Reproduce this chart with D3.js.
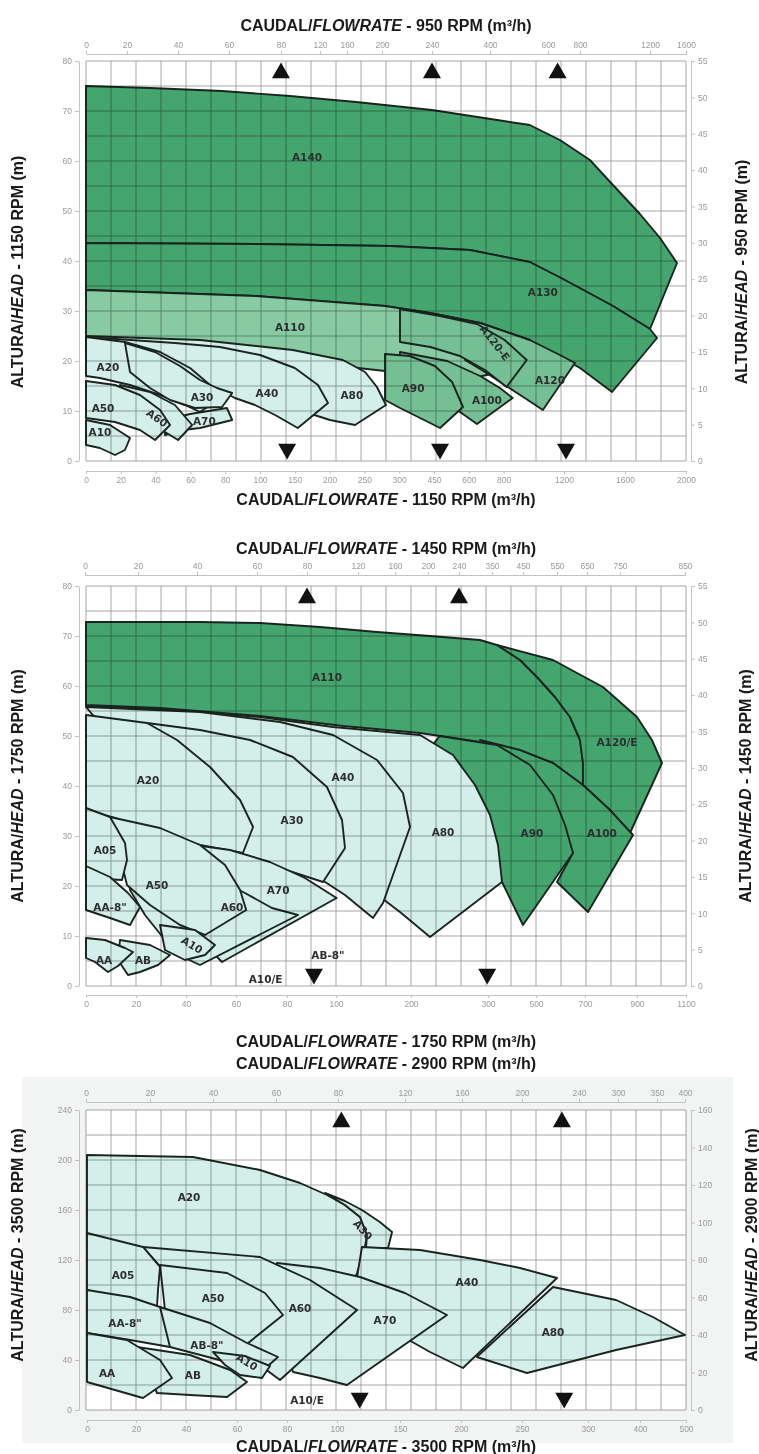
<!DOCTYPE html>
<html>
<head>
<meta charset="utf-8">
<script src="https://cdn.jsdelivr.net/npm/d3@7"></script>
<style>
  body { margin: 0; background: #fff; }
  svg { display: block; }
</style>
</head>
<body>
<div id="container"></div>
<script>
/* CONSTANTS AND GLOBALS */
const width = 759, height = 1454;
const TITLE_FONT = "'Liberation Sans', Arial, sans-serif";
const LABEL_FONT = "'DejaVu Sans', sans-serif";
const tones = { dark: "#45a56f", mid: "#88cba3", mid2: "#74bf93", light: "#d4efea" };

/* ---------- PANEL 1 : 1150 rpm (bottom / left) - 950 rpm (top / right) ---------- */
const p1FlowBottom = [0, 20, 40, 60, 80, 100, 150, 200, 250, 300, 450, 600, 800, 1200, 1600, 2000];
const p1FlowTop = [0, 20, 40, 60, 80, 120, 160, 200, 240, 400, 600, 800, 1200, 1600];
const p1HeadLeft = [0, 10, 20, 30, 40, 50, 60, 70, 80];
const p1HeadRight = [0, 5, 10, 15, 20, 25, 30, 35, 40, 45, 50, 55];
const p1UpMarks = [80, 240, 660];      // top axis flow
const p1DownMarks = [139, 476, 1213];  // bottom axis flow

const p1A140 = [[0,75],[36.8,74.6],[78.2,74],[143,73],[238,71.8],[441,70.2],[800,68],[973,67.2],[1173,64.2],[1370,60.2],[1521,55.2],[1698,49.4],[1830,44.6],[1941,39.6],[1764,26.4],[1521,31],[1193,36.4],[973,39.8],[606,42.2],[287,43],[97.7,43.4],[0,43.6]];
const p1A130 = [[0,43.6],[97.7,43.4],[287,43],[606,42.2],[973,39.8],[1193,36.4],[1521,31],[1764,26.4],[1810,24.6],[1515,13.8],[1305,18.6],[973,24.2],[665,27.6],[434,29.6],[279.6,31],[97.7,33],[0,34.2]];
const p1A110 = [[0,34.2],[97.7,33],[279.6,31],[434,29.6],[665,27.6],[973,24.2],[907,20.2],[779,17.8],[562,16],[390,16],[279.6,18],[150,20],[0,22]];
const p1A120 = [[562,28.2],[665,27.6],[973,24.2],[1173,21.2],[1272,19.6],[1060,10.2],[940,12.6],[807,15.2],[693,17.8],[584,20.2]];
const p1A120E = [[303.4,30.4],[476,29],[647,27.4],[807,24.2],[953,20.2],[820,14.8],[693,18.2],[562,21],[434,22.8],[303.4,23.8]];
const p1A100 = [[303.4,21.8],[507,20],[665,17],[779,14.6],[860,12.6],[647,7.4],[562,9.8],[476,12.2],[368,14.2],[303.4,15.2]];
const p1A90 = [[279.6,21.4],[346,21],[454,19],[528,15.8],[575,10.8],[476,6.6],[390,8.6],[303.4,10.6],[279.6,12.2]];
const p1A80 = [[0,25],[65.5,24.2],[147,22.2],[219,20.2],[251,17.8],[268,14.8],[281,11.2],[236.5,7.2],[200.6,8.2],[164.5,9.8],[128.7,12.2],[94.3,15.2],[65.5,18.2],[36.8,20.2],[0,21.8]];
const p1A40 = [[0,24.8],[51.1,23.6],[77,22.8],[100,21.2],[150,18.6],[183.3,15.2],[197.7,11.6],[154.3,6.6],[121.6,9.2],[97.1,11.2],[85.6,12.6],[65.5,16.2],[36.8,19.2],[0,21.2]];
const p1A20 = [[0,24.8],[22.4,23.8],[42.6,21.8],[59.8,18.6],[71.3,15.2],[75.9,12.2],[65.5,9.8],[56.9,11.2],[42.6,13.2],[25.3,15.2],[8,16.6],[0,17]];
const p1A30 = [[22.4,23.6],[39.7,21.8],[54,19],[65.5,16.2],[75.3,14.6],[84,13.6],[78.2,10.8],[62.6,10.6],[48.3,12.2],[36.8,14.6],[25.3,17.8]];
const p1A70 = [[45.4,8.2],[59.8,9.4],[81,10.6],[84,8.2],[65.5,6.6],[55.7,6.2],[45.4,5.2]];
const p1A60 = [[19.5,15.2],[36.8,13.8],[51.1,11.2],[61,7.2],[52.9,4.2],[45.4,5.8],[33.9,8.6],[22.4,10.6]];
const p1A50 = [[0,16],[16.7,15.2],[31,13.2],[42.6,10.2],[48.3,7.2],[39.7,4.2],[31,6.2],[16.7,7.8],[0,8.6]];
const p1A10 = [[0,8.2],[13.8,7.2],[25.3,4.6],[22.4,2.2],[16.7,1.2],[8,2.6],[0,3.2]];

const p1Labels = [["A140",167.5,60.8],["A130",1060,33.8],["A110",143,26.8],["A120-E",750,23.6],["A120",1107,16.2],
  ["A100",704,12.2],["A90",360,14.6],["A80",232,13.2],["A40",110,13.6],["A30",66.7,12.8],["A70",68,8],
  ["A20",12.6,18.8],["A50",9.8,10.6],["A60",40.8,8.6],["A10",8,5.8]];

/* ---------- PANEL 2 : 1750 rpm (bottom / left) - 1450 rpm (top / right) ---------- */
const p2FlowBottom = [0, 20, 40, 60, 80, 100, 200, 300, 500, 700, 900, 1100];
const p2FlowTop = [0, 20, 40, 60, 80, 120, 160, 200, 240, 350, 450, 550, 650, 750, 850];
const p2HeadLeft = [0, 10, 20, 30, 40, 50, 60, 70, 80];
const p2HeadRight = [0, 5, 10, 15, 20, 25, 30, 35, 40, 45, 50, 55];
const p2UpMarks = [80, 240];
const p2DownMarks = [91, 299];

const p2A110 = [[0,72.8],[45.6,72.8],[69.4,72.6],[93.5,71.8],[154.7,70.8],[224.7,70],[289.6,69.2],[337.5,68.2],[433.3,65.2],[504,61.8],[577.5,57.8],[638.7,53.8],[679.5,49.2],[691.7,44.6],[691.7,40.2],[569.4,44.6],[350,48.2],[211.7,50.6],[109.3,52],[69.4,54],[29.6,55.6],[0,56.2]];
const p2A120E = [[337.5,68.2],[569.4,65.2],[769,59.8],[900,53.8],[961,49.2],[1002,44.6],[873,30.6],[796,35.2],[691.7,40.2],[691.7,44.6],[679.5,49.2],[638.7,53.8],[577.5,57.8],[504,61.8],[433.3,65.2]];
const p2A100 = [[289.6,49.2],[433.3,47.2],[569.4,44.6],[691.7,40.2],[796,35.2],[884.6,30.2],[711.5,14.8],[585.7,20.8],[651,26.6],[598,34.2],[516.3,40.2],[391.7,45.8]];
const p2A90 = [[237,50],[337.5,48.2],[475,44.2],[569.4,38.2],[618.5,32.2],[651,26.6],[445.8,12.2],[358.3,20.8],[329.2,27.6],[289.6,34.2],[256.7,40],[211.7,44.8]];
const p2A80 = [[0,56],[29.6,55.4],[69.4,53.8],[98.8,51.8],[211.7,50.2],[254.5,46.2],[283.1,40.2],[308.3,34.2],[341.7,28.2],[358.3,20.8],[224.7,9.8],[185.3,14.8],[152,18.6],[121.3,21.6],[85.5,25.2],[61.6,31.2],[37.6,39.2],[13.6,47.2]];
const p2A40 = [[0,55.8],[45.6,54.8],[77.3,52.8],[98.8,50.2],[154.7,45.2],[189.3,38.6],[198.7,31.8],[162.7,16.6],[149.3,13.6],[112,18.2],[94.3,21.2],[69.4,27.2],[45.6,34.2],[21.6,43.2]];
const p2A30 = [[24.4,52.6],[45.6,51.2],[65.5,49.2],[82.4,45.8],[96.3,39.8],[108,33.2],[112,27.6],[94.7,20.8],[77.3,23.6],[59.6,25.8],[42.4,28],[21.6,37.2]];
const p2A20 = [[0,54.2],[24.4,52.6],[36.4,49.2],[49.6,43.8],[61.6,37.2],[66.7,31.8],[62.7,26.6],[45.6,28.2],[25.6,31.2],[11.6,33.6],[0,35.2]];
const p2A70 = [[37.6,28.6],[57.6,27.2],[73.3,24.8],[87.3,21.6],[100.8,17.6],[54.4,4.8],[45.6,9.2],[39.6,14.2],[35.6,19.2],[34.4,25.2]];
const p2A60 = [[15.6,27.2],[33.6,25.2],[49.6,22.2],[63.5,18.6],[74.1,15.6],[84.5,14.2],[45.6,4.2],[39.6,5.6],[31.6,9.2],[23.6,14.2],[17.6,19.2]];
const p2A50 = [[9.6,33.8],[29.6,31.6],[45.6,28.2],[55.6,24.2],[61.6,19.2],[64,15.2],[47.6,10.2],[37.6,12.2],[25.6,16.2],[16.4,20.2]];
const p2A05 = [[0,35.6],[9.6,33.8],[15.6,28.6],[16.4,25.2],[14.4,21.2],[0,21.6]];
const p2AA8 = [[0,24],[9.6,21.8],[16.8,18.6],[21.6,15.8],[17.6,12.2],[9.6,13.6],[0,15.2]];
const p2A10 = [[29.6,12.2],[43.6,11.2],[51.6,8.2],[47.6,6.2],[39.6,5.2],[31.6,7.2]];
const p2AB = [[13.6,9.2],[25.6,8.2],[33.6,6.2],[28.8,4.2],[21.6,2.8],[16.8,2.2],[12.8,5.2]];
const p2AA = [[0,9.6],[7.6,9.2],[15.6,7.6],[18.8,6.8],[12.8,4],[8.8,2.8],[3.6,4.8],[0,5.6]];

const p2Labels = [["A110",96.3,61.8],["A120/E",823,48.8],["A90",483,30.6],["A100",765,30.6],["A80",241.6,30.8],
  ["A40",109.3,41.8],["A30",82,33.2],["A20",24.8,41.2],["A05",7.6,27.2],["A50",28.4,20.2],["A70",76.5,19.2],
  ["A60",58.4,15.8],["AA-8\"",9.6,15.8],["A10",42.4,8.2],["AA",7.2,5.2],["AB",22.8,5.2],["AB-8\"",96.7,6.2],["A10/E",71.6,1.4]];

/* ---------- PANEL 3 : 3500 rpm (bottom / left) - 2900 rpm (top / right) ---------- */
const p3FlowBottom = [0, 20, 40, 60, 80, 100, 150, 200, 250, 300, 400, 500];
const p3FlowTop = [0, 20, 40, 60, 80, 120, 160, 200, 240, 300, 350, 400];
const p3HeadLeft = [0, 40, 80, 120, 160, 200, 240];
const p3HeadRight = [0, 20, 40, 60, 80, 100, 120, 140, 160];
const p3UpMarks = [82, 228];
const p3DownMarks = [118, 282];

const p3A20 = [[0,204],[42.7,202.4],[69.2,192],[85.2,181.6],[96,172],[106.3,164],[118.3,154.4],[123.8,140],[122.2,130.4],[115.9,109.6],[110,95],[80,100],[50,110],[20,125],[0,135]];
const p3A30 = [[95.2,173.6],[106.3,167.2],[119.8,160],[134,150.4],[143.7,142.4],[140.5,129.6],[123,129.6],[123.8,140],[118.3,154.4],[106.3,164]];
const p3A80 = [[273.5,98.4],[354,88],[428,74.4],[497.8,60],[354,48],[253.8,29.6],[213,42.4]];
const p3A40 = [[119.8,130.4],[166.4,128],[215.6,120],[248.4,113.6],[276.5,105.6],[201.6,33.6],[174.6,46.4],[150,60],[126.2,76],[114.3,96]];
const p3A70 = [[76,117.6],[93.2,113.6],[118.3,106.4],[154,93.6],[188.5,76],[107.9,20],[93.2,25.6],[82.4,30.4],[78.4,56]];
const p3A60 = [[22.8,130.4],[69.2,122.4],[89.2,104],[115.9,80],[77.2,24],[66.4,40],[56.1,53.6]];
const p3A50 = [[29.6,116],[56.1,109.6],[71.2,93.6],[78.4,76],[56.1,40],[47.5,48],[37.6,60],[31.6,80]];
const p3A05 = [[0,141.6],[22.8,130.4],[29.6,114.4],[28.8,96],[28.4,82.4],[0,96]];
const p3AA8 = [[0,96],[17.6,90.4],[29.6,82.4],[39.6,66.4],[33.6,50.4],[17.6,56],[0,61.6]];
const p3AB8 = [[29.6,82.4],[49.4,69.6],[64,53.6],[76.4,42.4],[69.2,29.6],[56.1,38.4],[33.6,50.4]];
const p3A10 = [[50.6,46.4],[63.2,43.2],[73.2,35.2],[70,25.6],[61.2,28],[55.3,36]];
const p3AB = [[20.4,50.4],[41.6,44],[57.3,32],[64,22.4],[56.1,10.4],[41.6,12],[28.4,13.6]];
const p3AA = [[0,61.6],[16.3,56],[29.6,40],[34.4,25.6],[22.8,9.6],[11.4,16],[0,22.4]];

const p3Labels = [["A20",41.2,170.4],["A30",120.6,144],["A05",14.7,108],["A50",50.6,89.6],["A60",85.2,81.6],
  ["A70",138,72],["A40",204.9,102.4],["A80",273.5,62.4],["AA-8\"",15.5,69.6],["AB-8\"",48.2,52],["A10",64,38.4],
  ["AA",8.2,29.6],["AB",42.7,28],["A10/E",88,8]];

/* ---------- PANEL SET-UP (layout kept apart from the values) ---------- */
const panels = [
  {
    id: 1, rpmTop: "950", rpmBottom: "1150",
    flowBottom: p1FlowBottom, flowTop: p1FlowTop, headLeft: p1HeadLeft, headRight: p1HeadRight,
    up: p1UpMarks, down: p1DownMarks, labels: p1Labels,
    regions: [["A140","dark",p1A140],["A130","dark",p1A130],["A110","mid",p1A110],["A120","mid2",p1A120],
      ["A120-E","mid2",p1A120E],["A100","mid2",p1A100],["A90","mid2",p1A90],["A80","light",p1A80],["A40","light",p1A40],
      ["A20","light",p1A20],["A30","light",p1A30],["A70","light",p1A70],["A60","light",p1A60],["A50","light",p1A50],["A10","light",p1A10]],
    layout: { left: 86, right: 686, top: 61, bottom: 461, topAxis: 54, bottomAxis: 471,
      titleTop: 31, titleBottom: 505, leftTitleX: 17, rightTitleX: 741, sideTitleY: 272,
      bottomSteps: [0,34.8,69.6,104.4,139.2,174,208.8,243.6,278.4,313.2,348,382.8,417.6,478,539,600],
      topSteps: [0,41,92,143,195,234,261,296,346,404,462,494,564,600] }
  },
  {
    id: 2, rpmTop: "1450", rpmBottom: "1750",
    flowBottom: p2FlowBottom, flowTop: p2FlowTop, headLeft: p2HeadLeft, headRight: p2HeadRight,
    up: p2UpMarks, down: p2DownMarks, labels: p2Labels,
    regions: [["A110","dark",p2A110],["A120/E","dark",p2A120E],["A100","dark",p2A100],["A90","dark",p2A90],
      ["A80","light",p2A80],["A40","light",p2A40],["A30","light",p2A30],["A20","light",p2A20],["A70","light",p2A70],
      ["A60","light",p2A60],["A50","light",p2A50],["A05","light",p2A05],["AA-8","light",p2AA8],["A10","light",p2A10],
      ["AB","light",p2AB],["AA","light",p2AA]],
    layout: { left: 86, right: 686, top: 586, bottom: 986, topAxis: 575, bottomAxis: 995,
      titleTop: 554, titleBottom: 1047, leftTitleX: 17, rightTitleX: 745, sideTitleY: 786,
      bottomSteps: [0,50,100,150,201,250,325,402,450,499,551,600],
      topSteps: [-1,52,111,171,221,272,309,342,373,406,437,471,501,534,599] }
  },
  {
    id: 3, rpmTop: "2900", rpmBottom: "3500",
    flowBottom: p3FlowBottom, flowTop: p3FlowTop, headLeft: p3HeadLeft, headRight: p3HeadRight,
    up: p3UpMarks, down: p3DownMarks, labels: p3Labels,
    regions: [["A20","light",p3A20],["A30","light",p3A30],["A80","light",p3A80],["A40","light",p3A40],
      ["A70","light",p3A70],["A60","light",p3A60],["A50","light",p3A50],["A05","light",p3A05],["AA-8","light",p3AA8],
      ["AB-8","light",p3AB8],["A10","light",p3A10],["AB","light",p3AB],["AA","light",p3AA]],
    layout: { left: 86, right: 686, top: 1110, bottom: 1410, topAxis: 1102, bottomAxis: 1420,
      titleTop: 1069, titleBottom: 1452, leftTitleX: 17, rightTitleX: 751, sideTitleY: 1245,
      backdrop: { x0: 22, x1: 733, y0: 1077, y1: 1443 },
      bottomSteps: [1,50,100,151,201,251,314,375,436,502,554,600],
      topSteps: [0,64,127,190,252,319,376,436,493,532,571,599] }
  }
];

// tilted region names
const labelTilt = { "1:A120-E": 52, "1:A60": 35, "2:A10": 32, "3:A30": 48, "3:A10": 32 };

/* ---------- DRAW ---------- */
const svg = d3.select("#container").append("svg")
  .attr("width", width).attr("height", height);
svg.append("rect").attr("width", width).attr("height", height).attr("fill", "#fff");

panels.forEach(drawPanel);

function drawPanel(cfg) {
  const L = cfg.layout;
  const x = d3.scaleLinear().domain(cfg.flowBottom).range(L.bottomSteps.map(o => L.left + o)).clamp(true);
  const xTop = d3.scaleLinear().domain(cfg.flowTop).range(L.topSteps.map(o => L.left + o));
  const y = d3.scaleLinear().domain([0, d3.max(cfg.headLeft)]).range([L.bottom, L.top]);
  const yR = d3.scaleLinear().domain([0, d3.max(cfg.headRight)]).range([L.bottom, L.top]);

  const g = svg.append("g").attr("class", "panel" + cfg.id);

  // faint sheet behind the last chart
  if (L.backdrop) {
    const b = L.backdrop;
    g.append("rect")
      .attr("x", b.x0).attr("y", b.y0)
      .attr("width", b.x1 - b.x0).attr("height", b.y1 - b.y0)
      .attr("fill", "#f2f3f3");
    g.append("rect")
      .attr("x", L.left).attr("y", L.top)
      .attr("width", L.right - L.left).attr("height", L.bottom - L.top)
      .attr("fill", "#fff");
  }

  // coverage areas, painted back to front
  const line = d3.line().x(d => x(d[0])).y(d => y(d[1]));
  g.append("g").selectAll("path")
    .data(cfg.regions)
    .join("path")
    .attr("d", d => line(d[2]) + "Z")
    .attr("fill", d => tones[d[1]])
    .attr("stroke", "#1b2520")
    .attr("stroke-width", 1.9)
    .attr("stroke-linejoin", "round");

  // grid (multiplied so it darkens over the green)
  const grid = g.append("g").style("mix-blend-mode", "multiply")
    .attr("stroke", "#9c9c9c").attr("stroke-width", 0.9);
  const cols = d3.scaleLinear().domain([0, 24]).range([L.left, L.right]);
  grid.selectAll("line.v").data(d3.range(25)).join("line")
    .attr("class", "v")
    .attr("x1", d => cols(d)).attr("x2", d => cols(d))
    .attr("y1", L.top).attr("y2", L.bottom);
  const step = cfg.headLeft[1] / 2;
  grid.selectAll("line.h").data(d3.range(0, d3.max(cfg.headLeft) + step / 2, step)).join("line")
    .attr("class", "h")
    .attr("x1", L.left).attr("x2", L.right)
    .attr("y1", d => y(d)).attr("y2", d => y(d));

  // names of the areas
  g.append("g").selectAll("text")
    .data(cfg.labels)
    .join("text")
    .attr("transform", d => `translate(${x(d[1])},${y(d[2])}) rotate(${labelTilt[cfg.id + ":" + d[0]] || 0})`)
    .attr("text-anchor", "middle")
    .attr("dy", "0.36em")
    .attr("font-family", LABEL_FONT)
    .attr("font-size", 10.5)
    .attr("font-weight", "bold")
    .attr("fill", "#2e2e2e")
    .text(d => d[0]);

  // triangles
  const tri = d3.symbol(d3.symbolTriangle, 140);
  g.append("g").selectAll("path")
    .data(cfg.up).join("path")
    .attr("d", tri)
    .attr("transform", d => `translate(${xTop(d)},${L.top + 12})`)
    .attr("fill", "#111");
  g.append("g").selectAll("path")
    .data(cfg.down).join("path")
    .attr("d", tri)
    .attr("transform", d => `translate(${x(d)},${L.bottom - 12}) rotate(180)`)
    .attr("fill", "#111");

  // axes
  const axisStyle = sel => {
    sel.selectAll("path.domain, line").attr("stroke", "#c2c2c2");
    sel.selectAll("text").attr("fill", "#9a9a9a").attr("font-size", 8.5).attr("font-family", TITLE_FONT);
  };
  g.append("g").attr("transform", `translate(0,${L.topAxis})`)
    .call(d3.axisTop(xTop).tickValues(cfg.flowTop).tickSize(3).tickSizeOuter(3).tickFormat(d3.format("d")))
    .call(axisStyle);
  g.append("g").attr("transform", `translate(0,${L.bottomAxis})`)
    .call(d3.axisBottom(x).tickValues(cfg.flowBottom).tickSize(3).tickSizeOuter(3).tickFormat(d3.format("d")))
    .call(axisStyle);
  g.append("g").attr("transform", `translate(${L.left - 7},0)`)
    .call(d3.axisLeft(y).tickValues(cfg.headLeft).tickSize(4).tickSizeOuter(0).tickFormat(d3.format("d")))
    .call(axisStyle);
  g.append("g").attr("transform", `translate(${L.right + 5},0)`)
    .call(d3.axisRight(yR).tickValues(cfg.headRight).tickSize(4).tickSizeOuter(0).tickFormat(d3.format("d")))
    .call(axisStyle);

  // titles
  const cx = (L.left + L.right) / 2;
  title(g, `translate(${cx},${L.titleTop})`, "CAUDAL/", "FLOWRATE", ` - ${cfg.rpmTop} RPM (m³/h)`);
  title(g, `translate(${cx},${L.titleBottom})`, "CAUDAL/", "FLOWRATE", ` - ${cfg.rpmBottom} RPM (m³/h)`);
  title(g, `translate(${L.leftTitleX},${L.sideTitleY}) rotate(-90)`, "ALTURA/", "HEAD", ` - ${cfg.rpmBottom} RPM (m)`, "0.35em");
  title(g, `translate(${L.rightTitleX},${L.sideTitleY}) rotate(-90)`, "ALTURA/", "HEAD", ` - ${cfg.rpmTop} RPM (m)`, "0.35em");
}

function title(g, transform, a, b, c, dy) {
  const t = g.append("text")
    .attr("transform", transform)
    .attr("text-anchor", "middle")
    .attr("font-family", TITLE_FONT)
    .attr("font-size", 16)
    .attr("font-weight", "bold")
    .attr("fill", "#1a1a1a");
  if (dy) t.attr("dy", dy);
  t.append("tspan").text(a);
  t.append("tspan").attr("font-style", "italic").text(b);
  t.append("tspan").text(c);
}
</script>
</body>
</html>
